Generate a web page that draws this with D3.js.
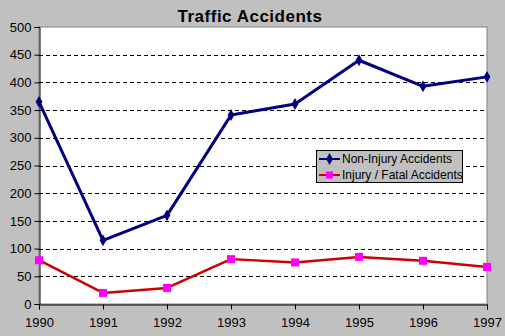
<!DOCTYPE html>
<html><head><meta charset="utf-8">
<script src="https://cdn.jsdelivr.net/npm/d3@7"></script>
<style>
body{margin:0;background:#c0c0c0;}
svg{display:block;font-family:Arial,"Liberation Sans",sans-serif;}
</style></head>
<body><svg id="c" width="505" height="336"></svg>
<script>
const years = ["1990","1991","1992","1993","1994","1995","1996","1997"];
const nonInjury = [365, 115, 160, 341, 361, 440, 393, 410];
const injuryFatal = [79, 20, 29, 81, 75, 85, 78, 67];
const yTicks = [0,50,100,150,200,250,300,350,400,450,500];
const seriesNames = ["Non-Injury Accidents", "Injury / Fatal Accidents"];

const svg = d3.select("#c");
const L = 39, R = 487, T = 27, B = 304;
svg.append("rect").attr("width",505).attr("height",336).attr("fill","#c0c0c0");
const x = d3.scalePoint().domain(years).range([L, R]);
const y = d3.scaleLinear().domain([0,500]).range([B, T]);

svg.append("rect").attr("x",L).attr("y",T).attr("width",R-L).attr("height",B-T)
  .attr("fill","#fff").attr("stroke","#808080").attr("stroke-width",1);

// gridlines
svg.append("g").selectAll("line").data(yTicks.filter(d=>d>0 && d<500)).join("line")
  .attr("x1",L).attr("x2",R).attr("y1",d=>Math.round(y(d))+0.5).attr("y2",d=>Math.round(y(d))+0.5)
  .attr("stroke","#000").attr("stroke-dasharray","4,3").attr("stroke-width",1);

// axes
const ya = svg.append("g").attr("transform",`translate(${L+0.5},0)`)
  .call(d3.axisLeft(y).tickValues(yTicks).tickSize(5).tickPadding(3));
ya.select(".domain").attr("stroke","#000");
ya.selectAll("text").attr("font-size","13px").attr("fill","#000");
const xa = svg.append("g").attr("transform",`translate(0,${B+0.5})`)
  .call(d3.axisBottom(x).tickSize(5).tickPadding(8));
xa.select(".domain").attr("stroke","#000");
xa.selectAll("text").attr("font-size","13px").attr("fill","#000");

// title
svg.append("text").attr("x",250).attr("y",22).attr("text-anchor","middle")
  .attr("font-size","17px").attr("font-weight","bold").attr("letter-spacing","0.5px")
  .text("Traffic Accidents");

const line = d3.line().x((d,i)=>x(years[i])).y(d=>y(d));
svg.append("path").datum(nonInjury).attr("d",line).attr("fill","none")
  .attr("stroke","#000080").attr("stroke-width",3).attr("stroke-linejoin","round");
svg.append("path").datum(injuryFatal).attr("d",line).attr("fill","none")
  .attr("stroke","#cc0000").attr("stroke-width",2.5).attr("stroke-linejoin","round");

const diamond = d3.symbol().type(d3.symbolDiamond).size(40);
svg.append("g").selectAll("path").data(nonInjury).join("path")
  .attr("d",diamond).attr("transform",(d,i)=>`translate(${x(years[i])},${y(d)})`)
  .attr("fill","#000080");
svg.append("g").selectAll("rect").data(injuryFatal).join("rect")
  .attr("x",(d,i)=>x(years[i])-4).attr("y",d=>y(d)-4).attr("width",8).attr("height",8)
  .attr("fill","#ff00ff");

// legend
const lg = svg.append("g");
lg.append("rect").attr("x",316.5).attr("y",150.5).attr("width",146).attr("height",32)
  .attr("fill","#c0c0c0").attr("stroke","#000");
const rows = [
  {name:seriesNames[0], color:"#000080", y:159},
  {name:seriesNames[1], color:"#cc0000", y:175}
];
rows.forEach((r,i)=>{
  lg.append("line").attr("x1",319).attr("x2",340).attr("y1",r.y).attr("y2",r.y)
    .attr("stroke",r.color).attr("stroke-width",2);
  if(i===0) lg.append("path").attr("d",diamond).attr("transform",`translate(329.5,${r.y})`).attr("fill","#000080");
  else lg.append("rect").attr("x",326).attr("y",r.y-3.5).attr("width",7).attr("height",7).attr("fill","#ff00ff");
  lg.append("text").attr("x",342).attr("y",r.y+4).attr("font-size","12px").text(r.name);
});
</script></body></html>
